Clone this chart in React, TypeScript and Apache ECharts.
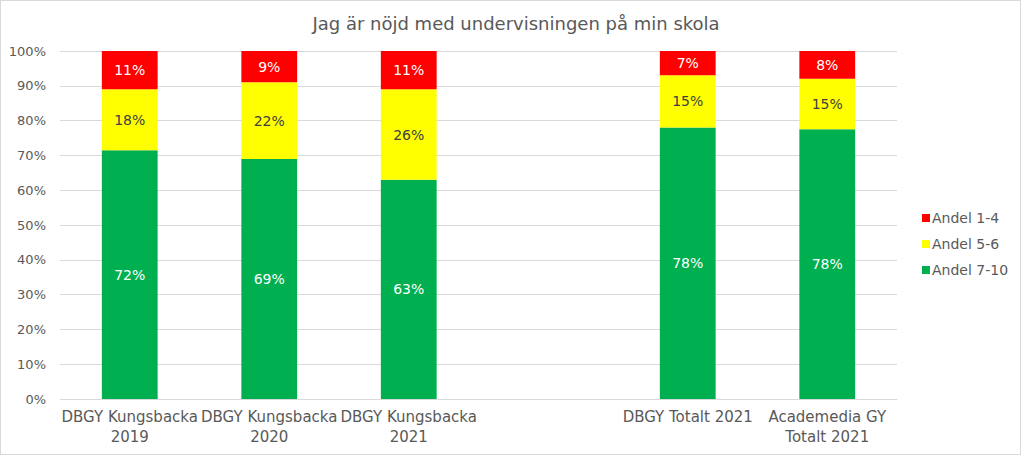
import React, { useEffect, useRef } from "react";
import * as echarts from "echarts";

const categories = [
  "DBGY Kungsbacka\n2019",
  "DBGY Kungsbacka\n2020",
  "DBGY Kungsbacka\n2021",
  "",
  "DBGY Totalt 2021",
  "Academedia GY\nTotalt 2021",
];
const andel7to10: (number | null)[] = [71.5, 69, 63, null, 78, 77.5];
const andel5to6: (number | null)[] = [17.5, 22, 26, null, 15, 14.5];
const andel1to4: (number | null)[] = [11, 9, 11, null, 7, 8];
const yTicks = [0, 10, 20, 30, 40, 50, 60, 70, 80, 90, 100];

const FONT = "'DejaVu Sans', sans-serif";
const TXT = "#595959";

export default function App() {
  const ref = useRef<HTMLDivElement>(null);
  useEffect(() => {
    const chart = echarts.init(ref.current!, undefined, { renderer: "svg" });
    const label = (color: string) => ({
      show: true,
      position: "inside" as const,
      color,
      fontFamily: FONT,
      fontSize: 14,
      formatter: (p: any) => (p.value == null ? "" : Math.round(p.value) + "%"),
    });
    chart.setOption({
      animation: false,
      textStyle: { fontFamily: FONT },
      title: {
        text: "Jag är nöjd med undervisningen på min skola",
        left: 510,
        textAlign: "center",
        top: 8,
        textStyle: { fontFamily: FONT, fontSize: 18, fontWeight: "normal", color: TXT },
      },
      legend: {
        orient: "vertical",
        left: 916,
        top: 205,
        itemWidth: 8,
        itemHeight: 8,
        itemGap: 12,
        icon: "rect",
        data: ["Andel 1-4", "Andel 5-6", "Andel 7-10"],
        textStyle: { fontFamily: FONT, fontSize: 14, color: TXT, padding: [0, 0, 0, -3] },
      },
      grid: { left: 59, right: 123, top: 50, bottom: 55, containLabel: false },
      xAxis: {
        type: "category",
        data: categories,
        axisTick: { show: false },
        axisLine: { lineStyle: { color: "#d9d9d9" } },
        axisLabel: {
          interval: 0,
          color: TXT,
          fontFamily: FONT,
          fontSize: 15,
          lineHeight: 20,
          margin: 8,
        },
      },
      yAxis: {
        type: "value",
        min: yTicks[0],
        max: yTicks[yTicks.length - 1],
        interval: 10,
        axisLabel: {
          color: TXT,
          fontFamily: FONT,
          fontSize: 13,
          margin: 14,
          formatter: (v: number) => v + "%",
        },
        splitLine: { lineStyle: { color: "#d9d9d9" } },
        axisLine: { show: false },
        axisTick: { show: false },
      },
      series: [
        {
          name: "Andel 7-10",
          type: "bar",
          stack: "a",
          barWidth: "40%",
          data: andel7to10,
          itemStyle: { color: "#00b050" },
          label: label("#ffffff"),
        },
        {
          name: "Andel 5-6",
          type: "bar",
          stack: "a",
          data: andel5to6,
          itemStyle: { color: "#ffff00" },
          label: label("#404040"),
        },
        {
          name: "Andel 1-4",
          type: "bar",
          stack: "a",
          data: andel1to4,
          itemStyle: { color: "#ff0000" },
          label: label("#ffffff"),
        },
      ],
    });
    return () => chart.dispose();
  }, []);
  return (
    <div
      ref={ref}
      style={{
        position: "fixed",
        left: 0,
        top: 0,
        width: 1021,
        height: 455,
        boxSizing: "border-box",
        border: "1px solid #d9d9d9",
        background: "#fff",
      }}
    />
  );
}
